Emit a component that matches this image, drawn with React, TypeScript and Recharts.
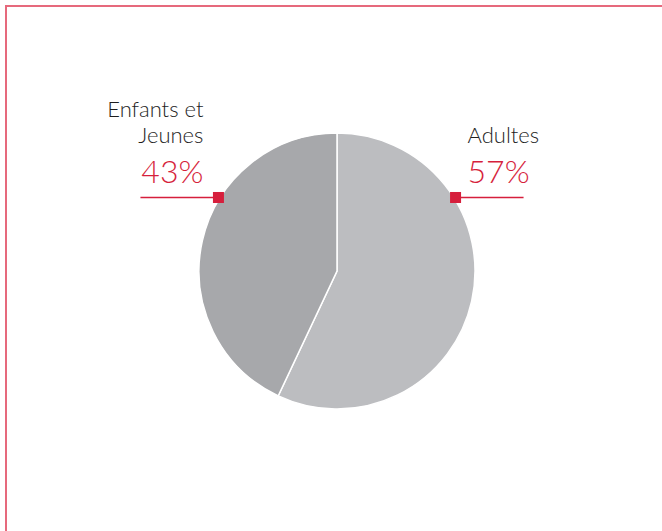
import React from 'react';
import { PieChart, Pie, Cell } from 'recharts';

const categories = ['Adultes', 'Enfants et Jeunes'];
const values = [57, 43];
const labelLines = [['Adultes'], ['Enfants et', 'Jeunes']];
const colors = ['#bcbdc0', '#a7a8ab'];

const data = categories.map((name, i) => ({ name, value: values[i] }));

const RED = '#d61f3c';

const renderLabel = (props: any) => {
  const { cx, cy, outerRadius, index, value } = props;
  const ang = (31.8 * Math.PI) / 180;
  const r = outerRadius + 1.5;
  const right = index === 0;
  const mx = cx + (right ? 1 : -1) * r * Math.cos(ang);
  const my = cy - r * Math.sin(ang);
  const lineLen = right ? 68 : 78;
  const lx2 = right ? mx + lineLen : mx - lineLen;
  const tx = right ? mx + 12 : mx - 15;
  const anchor = right ? 'start' : 'end';
  const lines = labelLines[index];
  const pctY = my - 14;
  return (
    <g key={`lbl-${index}`}>
      <line x1={mx} y1={my} x2={lx2} y2={my} stroke={RED} strokeWidth={1.5} />
      <rect x={mx - 5.5} y={my - 5.5} width={11} height={11} fill={RED} />
      <text
        x={tx}
        y={pctY}
        textAnchor={anchor}
        fill={RED}
        fontFamily="Lato, 'Open Sans', sans-serif"
        fontWeight={300}
        fontSize={32}
      >
        {`${value}%`}
      </text>
      {lines.map((ln, j) => (
        <text
          key={j}
          x={tx}
          y={pctY - 40 - (lines.length - 1 - j) * 26}
          textAnchor={anchor}
          fill="#1e1e1e"
          fontFamily="Lato, 'Open Sans', sans-serif"
          fontWeight={300}
          fontSize={22}
        >
          {ln}
        </text>
      ))}
    </g>
  );
};

export default function App() {
  return (
    <div
      style={{
        position: 'absolute',
        left: 0,
        top: 0,
        width: 662,
        height: 531,
        overflow: 'hidden',
        background: '#ffffff',
      }}
    >
      <div
        style={{
          position: 'absolute',
          left: 5,
          top: 5,
          width: 700,
          height: 600,
          border: '2px solid #e6697c',
          boxSizing: 'border-box',
        }}
      />
      <div style={{ position: 'absolute', left: 0, top: 0 }}>
        <PieChart width={662} height={531} margin={{ top: 0, right: 0, bottom: 0, left: 0 }}>
          <Pie
            data={data}
            dataKey="value"
            nameKey="name"
            cx={337}
            cy={271}
            outerRadius={138}
            startAngle={90}
            endAngle={-270}
            stroke="#ffffff"
            strokeWidth={1.5}
            label={renderLabel}
            labelLine={false}
            isAnimationActive={false}
          >
            {data.map((d, i) => (
              <Cell key={d.name} fill={colors[i]} />
            ))}
          </Pie>
        </PieChart>
      </div>
    </div>
  );
}
